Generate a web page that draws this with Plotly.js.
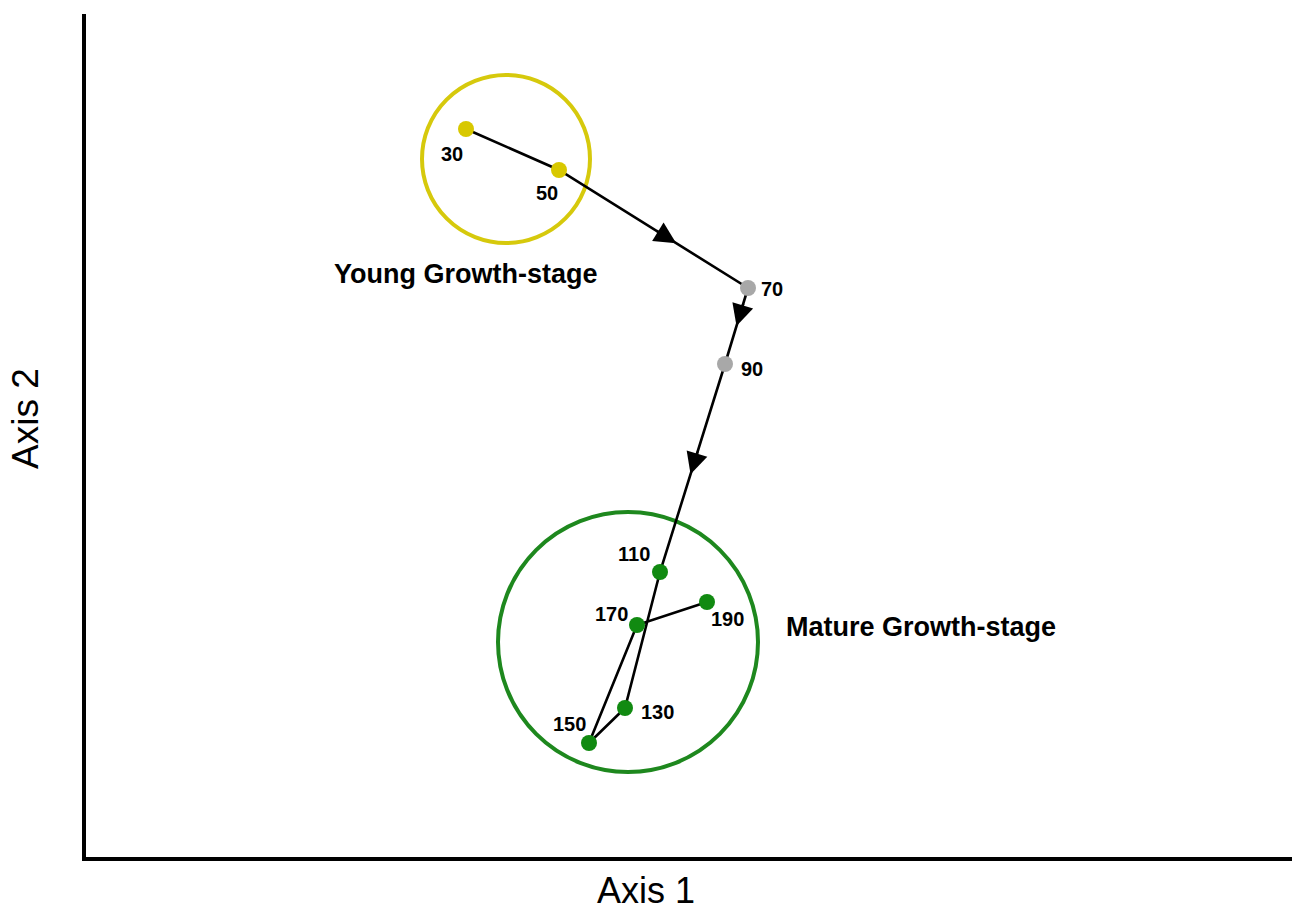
<!DOCTYPE html>
<html>
<head>
<meta charset="utf-8">
<script src="https://cdn.plot.ly/plotly-3.0.1.min.js"></script>
<style>
  html, body { margin: 0; padding: 0; background: #fff; }
  #chart { width: 1292px; height: 913px; }
</style>
</head>
<body>
<div id="chart"></div>
<script>
    // sampling days and their ordination scores
    const days = [30, 50, 70, 90, 110, 130, 150, 170, 190];
    const axis1 = [383, 476, 665, 642, 577, 542, 506, 554, 624];
    const axis2 = [729, 688, 570, 494, 286, 150, 115, 233, 256];
    const stage = ['young', 'young', 'mid', 'mid', 'mature', 'mature', 'mature', 'mature', 'mature'];

    // growth-stage groups: centre and radius
    const groupNames = ['Young Growth-stage', 'Mature Growth-stage'];
    const groupX = [423, 545];
    const groupY = [699, 216];
    const groupR = [84, 130];
    const groupLabelX = [383, 838];
    const groupLabelY = [584, 231];

    const stageColor = { young: '#d8c800', mid: '#a8a8a8', mature: '#118a11' };
    const ringColor = ['#d6c90c', '#1e881e'];

    // label offsets in px (x right, y up)
    const labelShift = [[-14, -25], [-12, -23], [24, -1], [27, -5], [-26, 18], [32, -4], [-20, 19], [-26, 11], [20, -17]];
    // where arrowheads sit along a segment (segment index, fraction)
    const arrowAt = [[1, 0.62], [2, 0.5], [3, 0.53]];

    const font = 'Arial, "Liberation Sans", sans-serif';
    const W = 1292, H = 913;
    const M = { l: 86, r: 0, t: 14, b: 56 };
    const pw = W - M.l - M.r, ph = H - M.t - M.b;
    // page pixel -> paper fraction
    const px = p => (p - M.l) / pw;
    const py = p => (H - M.b - p) / ph;

    let path = {
        x: axis1, y: axis2, mode: 'lines', type: 'scatter',
        line: { color: '#000', width: 2.6 }, hoverinfo: 'skip'
    };
    let points = {
        x: axis1, y: axis2, mode: 'markers', type: 'scatter',
        text: days.map(String),
        marker: { size: 16, color: stage.map(s => stageColor[s]) },
        hovertemplate: 'Day %{text}<extra></extra>'
    };

    let annotations = days.map((d, i) => ({
        x: axis1[i], y: axis2[i], text: String(d), showarrow: false,
        xshift: labelShift[i][0], yshift: labelShift[i][1],
        font: { family: font, size: 20, color: '#000', weight: 'bold' }
    }));

    arrowAt.forEach(([seg, f]) => {
        let x0 = axis1[seg], y0 = axis2[seg], x1 = axis1[seg + 1], y1 = axis2[seg + 1];
        let tx = x0 + (x1 - x0) * f, ty = y0 + (y1 - y0) * f;
        let len = Math.hypot(x1 - x0, y1 - y0);
        annotations.push({
            x: tx, y: ty, ax: tx - (x1 - x0) / len * 25, ay: ty - (y1 - y0) / len * 25,
            xref: 'x', yref: 'y', axref: 'x', ayref: 'y', text: '',
            showarrow: true, arrowhead: 2, arrowsize: 1.8, arrowwidth: 2.4, arrowcolor: '#000'
        });
    });

    groupNames.forEach((name, i) => {
        annotations.push({
            x: groupLabelX[i], y: groupLabelY[i], text: name, showarrow: false,
            font: { family: font, size: 27, color: '#000', weight: 'bold' }
        });
    });

    // axis titles sit off-centre in the original, so place them as paper annotations
    annotations.push({
        xref: 'paper', yref: 'paper', x: px(646), y: py(913), text: 'Axis 1', showarrow: false,
        xanchor: 'center', yanchor: 'bottom', font: { family: font, size: 36, color: '#000' }
    });
    annotations.push({
        xref: 'paper', yref: 'paper', x: px(25), y: py(419), text: 'Axis 2', showarrow: false,
        textangle: -90, xanchor: 'center', yanchor: 'middle', font: { family: font, size: 37, color: '#000' }
    });

    let shapes = groupNames.map((name, i) => ({
        type: 'circle', xref: 'x', yref: 'y',
        x0: groupX[i] - groupR[i], x1: groupX[i] + groupR[i],
        y0: groupY[i] - groupR[i], y1: groupY[i] + groupR[i],
        line: { color: ringColor[i], width: 4 }, layer: 'below'
    }));

    let layout = {
        width: W, height: H,
        margin: M,
        paper_bgcolor: '#fff', plot_bgcolor: '#fff',
        showlegend: false,
        font: { family: font, color: '#000' },
        xaxis: {
            range: [3, 1209], showgrid: false, zeroline: false, showticklabels: false, ticks: '',
            showline: true, linecolor: '#000', linewidth: 4, fixedrange: true
        },
        yaxis: {
            range: [1, 844], showgrid: false, zeroline: false, showticklabels: false, ticks: '',
            showline: true, linecolor: '#000', linewidth: 4, fixedrange: true
        },
        annotations: annotations,
        shapes: shapes
    };

    Plotly.newPlot('chart', [path, points], layout, { displayModeBar: false, staticPlot: true });
</script>
</body>
</html>
